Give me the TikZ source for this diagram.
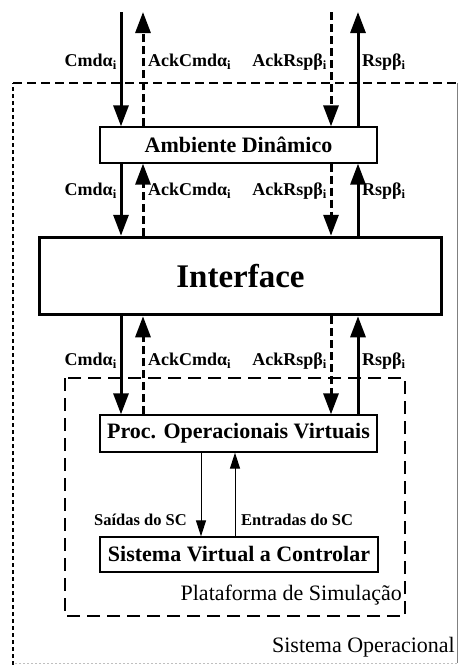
\documentclass[tikz,border=0pt]{standalone}
\usepackage{fontspec}
\setmainfont{Liberation Serif}
\usetikzlibrary{arrows.meta}
\begin{document}
\begin{tikzpicture}[x=1pt,y=-1pt,
  box/.style={draw,line width=1.3pt,fill=white,font=\fontsize{22}{24}\selectfont\bfseries,inner sep=0pt},
  lbl/.style={font=\fontsize{18}{20}\selectfont\bfseries,inner sep=0pt},
  slbl/.style={font=\fontsize{16.5}{18}\selectfont\bfseries,inner sep=0pt},
  bigarrow/.style={line width=3pt,-{Triangle[width=15pt,length=21pt]}},
  dasharrow/.style={bigarrow,dash pattern=on 8pt off 4pt},
  thinarrow/.style={line width=1pt,-{Triangle[width=10pt,length=16pt]}},
  plain/.style={font=\fontsize{22}{24}\selectfont,inner sep=0pt}]
\useasboundingbox (0,0) rectangle (459,665);
% outer system frame
\coordinate (o1) at (13,665);
\coordinate (o2) at (13,83);
\coordinate (o3) at (457,83);
\coordinate (o4) at (457,663);
\draw[line width=1.6pt,dash pattern=on 4pt off 3pt] (o1) -- (o2);
\draw[line width=1.6pt,dash pattern=on 9pt off 5pt] (o2) -- (o3);
\draw[line width=0.7pt,gray] (o3) -- (o4);
\draw[line width=0.7pt,gray!50,dash pattern=on 2pt off 2pt] (o4) -- (13,663);
% inner simulation frame
\coordinate (p1) at (65,378);
\coordinate (p2) at (405,616);
\draw[line width=1.6pt,dash pattern=on 13pt off 7pt] (p1) rectangle (p2);
% boxes
\node[box,minimum width=277pt,minimum height=36pt] (amb) at (238.5,145) {Ambiente Dinâmico};
\node[box,line width=3.5pt,minimum width=402pt,minimum height=77pt,font=\fontsize{33}{36}\selectfont\bfseries] (int) at (240.5,276) {Interface};
\node[box,minimum width=277pt,minimum height=37pt] (proc) at (238.5,433.5) {Proc. Operacionais Virtuais};
\node[box,minimum width=278pt,minimum height=35pt] (svc) at (239,554.5) {Sistema Virtual a Controlar};
% column coordinates
\coordinate (c1) at (121,12);
\coordinate (c2) at (143,12);
\coordinate (c3) at (331,12);
\coordinate (c4) at (358,12);
% top arrows
\draw[bigarrow] (c1) -- (c1 |- amb.north);
\draw[dasharrow] (c2 |- amb.north) -- (c2);
\draw[dasharrow] (c3) -- (c3 |- amb.north);
\draw[bigarrow] (c4 |- amb.north) -- (c4);
% middle arrows
\draw[bigarrow] (c1 |- amb.south) -- (c1 |- int.north);
\draw[dasharrow] (c2 |- int.north) -- (c2 |- amb.south);
\draw[dasharrow] (c3 |- amb.south) -- (c3 |- int.north);
\draw[bigarrow] (c4 |- int.north) -- (c4 |- amb.south);
% lower arrows
\draw[bigarrow] (c1 |- int.south) -- (c1 |- proc.north);
\draw[dasharrow] (c2 |- proc.north) -- (c2 |- int.south);
\draw[dasharrow] (c3 |- int.south) -- (c3 |- proc.north);
\draw[bigarrow] (c4 |- proc.north) -- (c4 |- int.south);
% labels
\foreach \y/\n in {62/a,191/b,361/c}{
  \node[lbl,anchor=east] (l1\n) at (117,\y) {Cmdα\textsubscript{i}};
  \node[lbl,anchor=west] (l2\n) at (148,\y) {AckCmdα\textsubscript{i}};
  \node[lbl,anchor=east] (l3\n) at (327,\y) {AckRspβ\textsubscript{i}};
  \node[lbl,anchor=west] (l4\n) at (362,\y) {Rspβ\textsubscript{i}};
}
% thin arrows
\coordinate (s1) at (201,0);
\coordinate (s2) at (235,0);
\draw[thinarrow] (s1 |- proc.south) -- (s1 |- svc.north);
\draw[thinarrow] (s2 |- svc.north) -- (s2 |- proc.south);
\node[slbl,anchor=east] (sai) at (187,520) {Saídas do SC};
\node[slbl,anchor=west] (ent) at (241,520) {Entradas do SC};
% frame titles
\node[plain,anchor=base east] (plat) at (402,600) {Plataforma de Simulação};
\node[plain,anchor=base east] (sop) at (455,652) {Sistema Operacional};
\end{tikzpicture}
\end{document}
